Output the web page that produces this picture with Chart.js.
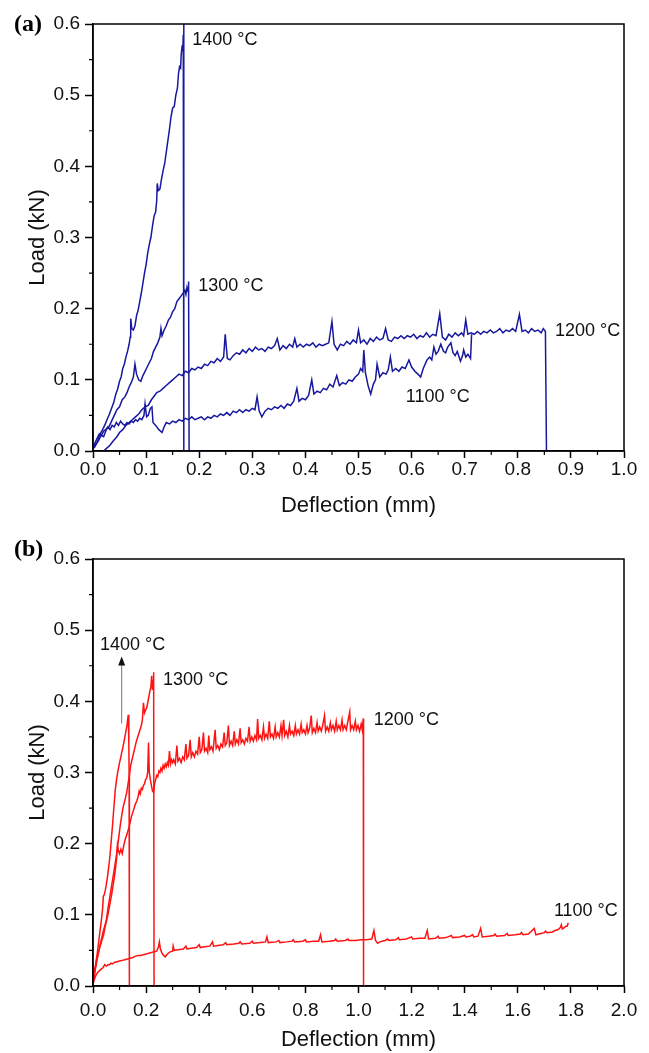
<!DOCTYPE html>
<html>
<head>
<meta charset="utf-8">
<script src="https://cdn.jsdelivr.net/npm/chart.js@4.4.0/dist/chart.umd.min.js"></script>
<style>
  body { margin: 0; background: #fff; }
  canvas { display: block; }
</style>
</head>
<body>
<canvas id="chartA" width="649" height="525"></canvas>
<canvas id="chartB" width="649" height="528"></canvas>
<script>
// ---- panel (a) : [deflection mm, load kN] ----
var a1400 = [[0.002,0.004],[0.008,0.012],[0.012,0.022],[0.018,0.030],[0.022,0.036],[0.027,0.045],[0.031,0.052],[0.035,0.060],[0.039,0.068],[0.043,0.080],[0.046,0.086],[0.050,0.098],[0.053,0.104],[0.056,0.116],[0.059,0.122],[0.062,0.132],[0.065,0.140],[0.068,0.150],[0.070,0.160],[0.071,0.186],[0.073,0.172],[0.076,0.170],[0.079,0.176],[0.082,0.190],[0.085,0.198],[0.088,0.210],[0.091,0.222],[0.094,0.236],[0.097,0.250],[0.100,0.262],[0.103,0.278],[0.106,0.290],[0.109,0.300],[0.112,0.316],[0.115,0.330],[0.118,0.336],[0.120,0.352],[0.121,0.376],[0.123,0.366],[0.126,0.368],[0.129,0.382],[0.132,0.394],[0.135,0.404],[0.138,0.420],[0.141,0.436],[0.144,0.452],[0.147,0.470],[0.150,0.482],[0.153,0.484],[0.156,0.500],[0.159,0.510],[0.161,0.530],[0.163,0.540],[0.165,0.538],[0.166,0.556],[0.168,0.570],[0.169,0.562],[0.170,0.585],[0.171,0.620],[0.171,0.000],[0.176,0.000]];

var a1300 = [[0.000,0.004],[0.005,0.010],[0.010,0.014],[0.015,0.022],[0.020,0.020],[0.025,0.030],[0.030,0.034],[0.035,0.042],[0.040,0.050],[0.045,0.058],[0.050,0.062],[0.055,0.072],[0.060,0.076],[0.064,0.082],[0.068,0.090],[0.072,0.096],[0.076,0.104],[0.079,0.122],[0.082,0.108],[0.086,0.100],[0.090,0.098],[0.094,0.106],[0.098,0.112],[0.102,0.118],[0.106,0.124],[0.110,0.130],[0.114,0.140],[0.118,0.146],[0.122,0.152],[0.126,0.160],[0.128,0.172],[0.130,0.162],[0.134,0.170],[0.138,0.176],[0.142,0.184],[0.146,0.188],[0.150,0.196],[0.154,0.200],[0.158,0.210],[0.162,0.214],[0.166,0.218],[0.170,0.222],[0.173,0.226],[0.175,0.220],[0.177,0.230],[0.179,0.224],[0.180,0.238],[0.181,0.000],[0.200,0.000]];

var a1200 = [[0.020,0.000],[0.026,0.004],[0.032,0.008],[0.038,0.014],[0.045,0.020],[0.050,0.026],[0.056,0.030],[0.062,0.036],[0.068,0.040],[0.074,0.044],[0.080,0.048],[0.086,0.052],[0.092,0.058],[0.098,0.062],[0.104,0.064],[0.110,0.072],[0.116,0.078],[0.120,0.082],[0.126,0.084],[0.132,0.088],[0.138,0.092],[0.144,0.096],[0.150,0.100],[0.156,0.104],[0.162,0.108],[0.168,0.106],[0.174,0.112],[0.180,0.110],[0.186,0.116],[0.192,0.114],[0.198,0.118],[0.204,0.116],[0.210,0.122],[0.216,0.120],[0.222,0.126],[0.228,0.124],[0.234,0.130],[0.240,0.126],[0.246,0.132],[0.249,0.164],[0.253,0.130],[0.258,0.128],[0.264,0.134],[0.270,0.138],[0.276,0.136],[0.282,0.142],[0.288,0.138],[0.294,0.144],[0.300,0.140],[0.306,0.146],[0.312,0.142],[0.318,0.144],[0.324,0.140],[0.330,0.146],[0.336,0.144],[0.342,0.148],[0.347,0.158],[0.352,0.142],[0.358,0.148],[0.364,0.144],[0.370,0.150],[0.376,0.146],[0.380,0.158],[0.384,0.146],[0.390,0.150],[0.396,0.146],[0.402,0.150],[0.408,0.148],[0.414,0.152],[0.420,0.146],[0.426,0.150],[0.432,0.148],[0.438,0.150],[0.444,0.152],[0.450,0.182],[0.454,0.150],[0.460,0.142],[0.466,0.150],[0.472,0.148],[0.478,0.154],[0.484,0.150],[0.490,0.156],[0.496,0.152],[0.500,0.170],[0.504,0.152],[0.510,0.156],[0.516,0.150],[0.522,0.158],[0.528,0.154],[0.534,0.160],[0.540,0.156],[0.546,0.158],[0.551,0.172],[0.556,0.156],[0.562,0.154],[0.568,0.160],[0.574,0.158],[0.580,0.162],[0.586,0.158],[0.592,0.162],[0.598,0.160],[0.604,0.164],[0.610,0.158],[0.616,0.162],[0.622,0.160],[0.628,0.166],[0.634,0.160],[0.640,0.164],[0.646,0.162],[0.653,0.193],[0.658,0.160],[0.664,0.156],[0.670,0.164],[0.676,0.160],[0.682,0.166],[0.688,0.162],[0.694,0.166],[0.698,0.162],[0.702,0.184],[0.706,0.164],[0.712,0.166],[0.718,0.164],[0.724,0.168],[0.730,0.164],[0.736,0.168],[0.742,0.166],[0.748,0.170],[0.754,0.166],[0.760,0.168],[0.766,0.172],[0.772,0.166],[0.778,0.170],[0.784,0.168],[0.790,0.172],[0.796,0.168],[0.803,0.192],[0.808,0.168],[0.814,0.170],[0.820,0.166],[0.826,0.172],[0.832,0.168],[0.838,0.170],[0.844,0.166],[0.848,0.172],[0.852,0.168],[0.854,0.000],[0.862,0.000]];

var a1100 = [[0.000,0.004],[0.004,0.012],[0.008,0.018],[0.012,0.024],[0.016,0.022],[0.020,0.028],[0.024,0.030],[0.028,0.034],[0.032,0.030],[0.036,0.036],[0.040,0.034],[0.044,0.040],[0.048,0.036],[0.052,0.042],[0.056,0.038],[0.060,0.036],[0.064,0.040],[0.068,0.038],[0.072,0.042],[0.076,0.040],[0.080,0.044],[0.084,0.042],[0.088,0.046],[0.092,0.044],[0.096,0.050],[0.098,0.066],[0.101,0.048],[0.104,0.050],[0.108,0.060],[0.111,0.062],[0.113,0.040],[0.118,0.036],[0.124,0.030],[0.130,0.026],[0.134,0.034],[0.138,0.040],[0.144,0.038],[0.150,0.042],[0.156,0.040],[0.162,0.044],[0.168,0.042],[0.174,0.046],[0.180,0.044],[0.186,0.048],[0.192,0.044],[0.198,0.046],[0.204,0.048],[0.210,0.044],[0.216,0.048],[0.222,0.046],[0.228,0.050],[0.234,0.048],[0.240,0.052],[0.246,0.050],[0.252,0.054],[0.258,0.050],[0.264,0.056],[0.270,0.054],[0.276,0.058],[0.282,0.054],[0.288,0.058],[0.294,0.056],[0.300,0.060],[0.305,0.058],[0.309,0.076],[0.313,0.056],[0.318,0.048],[0.324,0.056],[0.330,0.060],[0.336,0.058],[0.342,0.062],[0.348,0.060],[0.354,0.064],[0.360,0.060],[0.366,0.066],[0.372,0.064],[0.378,0.070],[0.384,0.088],[0.388,0.070],[0.394,0.074],[0.400,0.072],[0.406,0.078],[0.412,0.100],[0.416,0.080],[0.422,0.084],[0.428,0.082],[0.434,0.088],[0.440,0.086],[0.446,0.094],[0.452,0.090],[0.459,0.106],[0.464,0.092],[0.470,0.096],[0.476,0.094],[0.482,0.100],[0.488,0.098],[0.494,0.104],[0.500,0.108],[0.504,0.116],[0.508,0.112],[0.510,0.142],[0.513,0.110],[0.518,0.092],[0.523,0.080],[0.528,0.094],[0.532,0.100],[0.535,0.122],[0.540,0.104],[0.546,0.110],[0.552,0.108],[0.556,0.114],[0.560,0.132],[0.564,0.112],[0.570,0.116],[0.576,0.112],[0.582,0.118],[0.588,0.116],[0.595,0.128],[0.600,0.118],[0.606,0.112],[0.612,0.108],[0.617,0.104],[0.622,0.116],[0.629,0.128],[0.634,0.132],[0.638,0.128],[0.642,0.146],[0.646,0.136],[0.650,0.140],[0.655,0.150],[0.660,0.140],[0.664,0.138],[0.668,0.146],[0.674,0.152],[0.678,0.138],[0.682,0.134],[0.686,0.140],[0.692,0.126],[0.696,0.134],[0.698,0.142],[0.702,0.132],[0.706,0.136],[0.711,0.130],[0.713,0.164]];

// ---- panel (b) ----
var b1400 = [[0.000,0.004],[0.004,0.012],[0.008,0.024],[0.012,0.036],[0.016,0.046],[0.020,0.058],[0.024,0.070],[0.028,0.082],[0.032,0.094],[0.036,0.108],[0.039,0.126],[0.042,0.128],[0.046,0.134],[0.050,0.142],[0.054,0.152],[0.058,0.164],[0.062,0.176],[0.066,0.192],[0.070,0.210],[0.074,0.228],[0.078,0.248],[0.081,0.262],[0.084,0.276],[0.088,0.288],[0.092,0.298],[0.096,0.306],[0.100,0.314],[0.104,0.320],[0.108,0.328],[0.112,0.334],[0.116,0.342],[0.120,0.350],[0.124,0.358],[0.128,0.366],[0.131,0.376],[0.133,0.381],[0.135,0.340],[0.136,0.300],[0.137,0.000]];

var b1300 = [[0.000,0.010],[0.004,0.018],[0.008,0.026],[0.012,0.034],[0.016,0.040],[0.020,0.046],[0.026,0.056],[0.032,0.066],[0.038,0.076],[0.044,0.084],[0.050,0.092],[0.056,0.108],[0.062,0.122],[0.068,0.136],[0.074,0.150],[0.080,0.164],[0.086,0.178],[0.090,0.188],[0.094,0.200],[0.098,0.212],[0.102,0.224],[0.106,0.234],[0.110,0.244],[0.114,0.252],[0.118,0.258],[0.122,0.264],[0.127,0.272],[0.132,0.284],[0.137,0.296],[0.142,0.310],[0.147,0.318],[0.152,0.326],[0.157,0.334],[0.162,0.342],[0.167,0.348],[0.172,0.354],[0.177,0.360],[0.182,0.366],[0.186,0.374],[0.190,0.398],[0.194,0.384],[0.198,0.388],[0.202,0.390],[0.206,0.398],[0.210,0.406],[0.214,0.414],[0.218,0.420],[0.221,0.436],[0.224,0.416],[0.226,0.430],[0.228,0.441],[0.229,0.420],[0.230,0.000],[0.240,0.000]];

var b1200 = [[0.000,0.006],[0.005,0.016],[0.010,0.026],[0.015,0.036],[0.020,0.046],[0.025,0.054],[0.030,0.060],[0.035,0.066],[0.040,0.072],[0.045,0.082],[0.050,0.090],[0.055,0.098],[0.060,0.108],[0.065,0.118],[0.070,0.128],[0.075,0.140],[0.080,0.152],[0.085,0.166],[0.089,0.180],[0.092,0.198],[0.096,0.190],[0.100,0.186],[0.105,0.192],[0.110,0.186],[0.115,0.196],[0.120,0.204],[0.125,0.210],[0.130,0.216],[0.135,0.222],[0.140,0.230],[0.145,0.238],[0.150,0.244],[0.155,0.250],[0.160,0.256],[0.165,0.260],[0.170,0.266],[0.174,0.274],[0.178,0.270],[0.182,0.278],[0.186,0.276],[0.190,0.282],[0.194,0.284],[0.198,0.290],[0.202,0.292],[0.206,0.300],[0.209,0.342],[0.212,0.300],[0.216,0.290],[0.220,0.282],[0.224,0.274],[0.228,0.272],[0.232,0.284],[0.236,0.290],[0.240,0.296],[0.244,0.294],[0.248,0.302],[0.252,0.300],[0.256,0.306],[0.260,0.302],[0.264,0.310],[0.268,0.306],[0.272,0.312],[0.276,0.308],[0.280,0.314],[0.284,0.310],[0.288,0.330],[0.292,0.312],[0.296,0.318],[0.300,0.314],[0.304,0.318],[0.310,0.312],[0.316,0.338],[0.320,0.316],[0.326,0.320],[0.332,0.314],[0.338,0.322],[0.344,0.318],[0.350,0.340],[0.354,0.320],[0.360,0.324],[0.366,0.346],[0.370,0.322],[0.376,0.328],[0.382,0.322],[0.388,0.330],[0.394,0.326],[0.400,0.350],[0.404,0.328],[0.410,0.332],[0.416,0.356],[0.420,0.330],[0.426,0.334],[0.432,0.328],[0.436,0.352],[0.440,0.332],[0.446,0.336],[0.452,0.330],[0.460,0.360],[0.464,0.334],[0.470,0.338],[0.476,0.332],[0.482,0.340],[0.488,0.336],[0.494,0.356],[0.498,0.338],[0.504,0.342],[0.510,0.366],[0.514,0.338],[0.520,0.344],[0.526,0.338],[0.532,0.358],[0.536,0.340],[0.542,0.346],[0.548,0.340],[0.554,0.362],[0.558,0.342],[0.564,0.346],[0.570,0.340],[0.576,0.348],[0.582,0.344],[0.588,0.364],[0.592,0.344],[0.598,0.350],[0.604,0.344],[0.610,0.352],[0.616,0.346],[0.620,0.375],[0.624,0.348],[0.630,0.352],[0.636,0.346],[0.642,0.364],[0.646,0.348],[0.652,0.354],[0.658,0.348],[0.664,0.372],[0.668,0.350],[0.674,0.354],[0.680,0.348],[0.686,0.364],[0.690,0.350],[0.696,0.356],[0.702,0.350],[0.708,0.366],[0.712,0.352],[0.718,0.374],[0.722,0.352],[0.728,0.358],[0.734,0.350],[0.740,0.366],[0.744,0.354],[0.750,0.358],[0.756,0.352],[0.762,0.366],[0.766,0.354],[0.772,0.360],[0.778,0.354],[0.784,0.368],[0.788,0.356],[0.794,0.360],[0.800,0.354],[0.806,0.366],[0.810,0.356],[0.816,0.362],[0.822,0.380],[0.826,0.356],[0.832,0.362],[0.838,0.356],[0.844,0.370],[0.848,0.358],[0.854,0.364],[0.860,0.358],[0.866,0.368],[0.872,0.380],[0.876,0.358],[0.882,0.364],[0.888,0.358],[0.894,0.370],[0.898,0.360],[0.904,0.366],[0.910,0.358],[0.916,0.372],[0.920,0.360],[0.926,0.366],[0.932,0.360],[0.938,0.374],[0.942,0.360],[0.948,0.366],[0.954,0.360],[0.960,0.372],[0.967,0.385],[0.970,0.360],[0.976,0.366],[0.982,0.360],[0.988,0.372],[0.992,0.360],[0.998,0.366],[1.004,0.358],[1.010,0.368],[1.014,0.360],[1.018,0.376],[1.019,0.000],[1.026,0.000]];

var b1100 = [[0.000,0.002],[0.004,0.008],[0.008,0.012],[0.012,0.016],[0.016,0.018],[0.020,0.020],[0.026,0.022],[0.032,0.024],[0.038,0.026],[0.044,0.030],[0.050,0.028],[0.056,0.030],[0.062,0.030],[0.068,0.032],[0.074,0.031],[0.080,0.033],[0.090,0.034],[0.100,0.035],[0.110,0.036],[0.120,0.037],[0.130,0.038],[0.140,0.039],[0.150,0.040],[0.160,0.042],[0.170,0.043],[0.180,0.043],[0.190,0.044],[0.200,0.045],[0.210,0.046],[0.220,0.047],[0.230,0.048],[0.240,0.049],[0.246,0.054],[0.250,0.062],[0.254,0.052],[0.260,0.046],[0.266,0.043],[0.272,0.041],[0.280,0.045],[0.290,0.048],[0.300,0.049],[0.302,0.056],[0.306,0.050],[0.320,0.051],[0.340,0.052],[0.350,0.056],[0.354,0.052],[0.370,0.053],[0.390,0.054],[0.400,0.058],[0.404,0.054],[0.420,0.055],[0.440,0.056],[0.450,0.062],[0.454,0.056],[0.470,0.057],[0.490,0.058],[0.500,0.061],[0.504,0.058],[0.530,0.059],[0.550,0.060],[0.554,0.062],[0.560,0.059],[0.590,0.060],[0.600,0.063],[0.604,0.060],[0.630,0.061],[0.650,0.062],[0.655,0.069],[0.660,0.061],[0.690,0.062],[0.700,0.064],[0.704,0.061],[0.730,0.062],[0.750,0.063],[0.754,0.065],[0.760,0.062],[0.790,0.063],[0.800,0.065],[0.804,0.062],[0.830,0.063],[0.850,0.063],[0.857,0.072],[0.862,0.062],[0.890,0.063],[0.910,0.064],[0.914,0.066],[0.920,0.063],[0.950,0.064],[0.960,0.066],[0.964,0.064],[0.990,0.064],[1.010,0.065],[1.030,0.065],[1.050,0.066],[1.058,0.078],[1.064,0.064],[1.072,0.060],[1.080,0.062],[1.100,0.064],[1.110,0.066],[1.114,0.064],[1.140,0.065],[1.150,0.068],[1.154,0.065],[1.180,0.066],[1.200,0.069],[1.204,0.066],[1.230,0.067],[1.250,0.067],[1.259,0.078],[1.264,0.066],[1.290,0.067],[1.300,0.070],[1.304,0.067],[1.330,0.068],[1.350,0.071],[1.354,0.068],[1.380,0.069],[1.400,0.071],[1.404,0.069],[1.420,0.070],[1.430,0.072],[1.434,0.069],[1.450,0.070],[1.460,0.081],[1.466,0.069],[1.490,0.070],[1.510,0.071],[1.514,0.073],[1.520,0.070],[1.550,0.071],[1.560,0.074],[1.564,0.071],[1.590,0.072],[1.610,0.073],[1.614,0.075],[1.620,0.072],[1.640,0.073],[1.662,0.081],[1.668,0.072],[1.690,0.074],[1.700,0.075],[1.704,0.077],[1.710,0.075],[1.730,0.076],[1.740,0.078],[1.750,0.079],[1.760,0.082],[1.764,0.086],[1.768,0.080],[1.775,0.082],[1.781,0.084],[1.786,0.084],[1.790,0.089]];

// curve labels (text, deflection, load)
var aLabelText = ['1400 °C', '1300 °C', '1200 °C', '1100 °C'];
var aLabelX = [0.187, 0.198, 0.870, 0.589];
var aLabelY = [0.578, 0.232, 0.169, 0.076];
var bLabelText = ['1400 °C', '1300 °C', '1200 °C', '1100 °C'];
var bLabelX = [0.026, 0.264, 1.057, 1.736];
var bLabelY = [0.479, 0.430, 0.374, 0.105];
// arrow in (b): x, y from, y to
var bArrow = [0.108, 0.369, 0.463];

// minor ticks
var yMinor = [0.05, 0.15, 0.25, 0.35, 0.45, 0.55];
var aXMinor = [0.05, 0.15, 0.25, 0.35, 0.45, 0.55, 0.65, 0.75, 0.85, 0.95];
var bXMinor = [0.1, 0.3, 0.5, 0.7, 0.9, 1.1, 1.3, 1.5, 1.7, 1.9];

var BLUE = 'rgb(24,24,158)';
var RED = 'rgb(255,18,18)';
var FONT = '"Liberation Sans", Arial, sans-serif';

Chart.defaults.font.family = FONT;
Chart.defaults.color = '#111';

var decor = {
  id: 'decor',
  afterDraw: function(chart, args, o) {
    var ctx = chart.ctx, a = chart.chartArea;
    var xs = chart.scales.x, ys = chart.scales.y;
    ctx.save();
    ctx.strokeStyle = '#000';
    ctx.lineWidth = 1.5;
    ctx.strokeRect(a.left, a.top, a.right - a.left, a.bottom - a.top);
    ctx.lineWidth = 1.2;
    ctx.beginPath();
    o.xMinor.forEach(function(v) {
      var p = xs.getPixelForValue(v);
      ctx.moveTo(p, a.bottom); ctx.lineTo(p, a.bottom + 4);
    });
    yMinor.forEach(function(v) {
      var p = ys.getPixelForValue(v);
      ctx.moveTo(a.left, p); ctx.lineTo(a.left - 4, p);
    });
    ctx.stroke();

    ctx.fillStyle = '#111';
    ctx.font = '18px ' + FONT;
    ctx.textAlign = 'left';
    ctx.textBaseline = 'middle';
    for (var i = 0; i < o.text.length; i++) {
      ctx.fillText(o.text[i], xs.getPixelForValue(o.lx[i]), ys.getPixelForValue(o.ly[i]));
    }

    if (o.arrow) {
      var ax = xs.getPixelForValue(o.arrow[0]);
      var y0 = ys.getPixelForValue(o.arrow[1]);
      var y1 = ys.getPixelForValue(o.arrow[2]);
      ctx.strokeStyle = '#777';
      ctx.lineWidth = 1;
      ctx.beginPath();
      ctx.moveTo(ax, y0); ctx.lineTo(ax, y1 + 8);
      ctx.stroke();
      ctx.fillStyle = '#111';
      ctx.beginPath();
      ctx.moveTo(ax, y1); ctx.lineTo(ax - 3.5, y1 + 9); ctx.lineTo(ax + 3.5, y1 + 9);
      ctx.closePath();
      ctx.fill();
    }

    ctx.fillStyle = '#000';
    ctx.font = 'bold 24px "Liberation Serif", "Times New Roman", serif';
    ctx.fillText(o.letter, 14, o.letterY);
    ctx.restore();
  }
};

function series(pts, color) {
  return {
    data: pts.map(function(p) { return {x: p[0], y: p[1]}; }),
    borderColor: color,
    borderWidth: 1.5,
    pointRadius: 0,
    showLine: true,
    fill: false,
    tension: 0
  };
}

function makeChart(id, sets, p) {
  return new Chart(document.getElementById(id).getContext('2d'), {
    type: 'scatter',
    data: { datasets: sets },
    plugins: [decor],
    options: {
      responsive: false,
      animation: false,
      events: [],
      layout: { padding: { top: p.padTop, right: 25, left: 0, bottom: 0 } },
      plugins: {
        legend: { display: false },
        tooltip: { enabled: false },
        decor: p.decor
      },
      scales: {
        x: {
          type: 'linear', min: 0, max: p.xMax,
          afterFit: function(s) { s.height = p.xHeight; },
          ticks: {
            stepSize: p.xStep, autoSkip: false, maxRotation: 0, padding: p.xPad,
            color: '#111', font: { size: 19 },
            callback: function(v) { return v.toFixed(1); }
          },
          grid: { drawOnChartArea: false, tickLength: 7, tickWidth: 1.5, tickColor: '#000' },
          border: { display: true, color: '#000', width: 1.5 },
          title: {
            display: true, text: 'Deflection (mm)', color: '#111',
            font: { size: 22, lineHeight: 1 }, padding: { top: 0, bottom: p.xTitlePad }
          }
        },
        y: {
          type: 'linear', min: 0, max: 0.6,
          afterFit: function(s) { s.width = 93; },
          ticks: {
            stepSize: 0.1, padding: 5, color: '#111', font: { size: 19 },
            callback: function(v) { return v.toFixed(1); }
          },
          grid: { drawOnChartArea: false, tickLength: 8, tickWidth: 1.5, tickColor: '#000' },
          border: { display: true, color: '#000', width: 1.5 },
          title: {
            display: true, text: 'Load (kN)', color: '#111',
            font: { size: 22, lineHeight: 1 }, padding: { top: 27, bottom: 0 }
          }
        }
      }
    }
  });
}

makeChart('chartA',
  [series(a1400, BLUE), series(a1300, BLUE), series(a1200, BLUE), series(a1100, BLUE)],
  { padTop: 24, xMax: 1.0, xStep: 0.1, xHeight: 74, xPad: 0, xTitlePad: 8,
    decor: { xMinor: aXMinor, text: aLabelText, lx: aLabelX, ly: aLabelY, letter: '(a)', letterY: 25 } });

makeChart('chartB',
  [series(b1400, RED), series(b1300, RED), series(b1200, RED), series(b1100, RED)],
  { padTop: 34, xMax: 2.0, xStep: 0.2, xHeight: 67, xPad: 6, xTitlePad: 2,
    decor: { xMinor: bXMinor, text: bLabelText, lx: bLabelX, ly: bLabelY, arrow: bArrow, letter: '(b)', letterY: 25 } });
</script>
</body>
</html>
